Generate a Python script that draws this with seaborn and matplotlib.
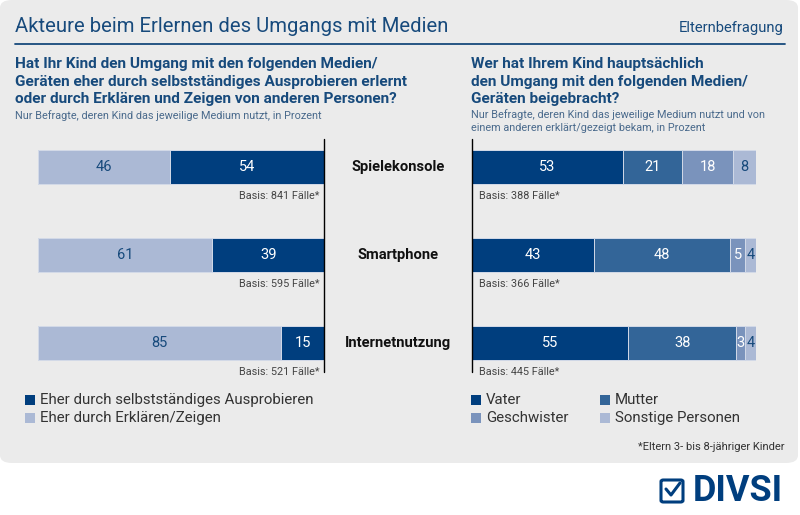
import numpy as np
import matplotlib
matplotlib.use("Agg")
import matplotlib.pyplot as plt
from matplotlib.patches import FancyBboxPatch, Rectangle
from matplotlib.lines import Line2D
import seaborn as sns

# data
categories = ["Spielekonsole", "Smartphone", "Internetnutzung"]
erklaeren = [46, 61, 85]
ausprobieren = [54, 39, 15]
basis_left = [841, 595, 521]

vater = [53, 43, 55]
mutter = [21, 48, 38]
geschwister = [18, 5, 3]
sonstige = [8, 4, 4]
basis_right = [388, 366, 445]

sns.set_theme(style="white")
plt.rcParams["font.family"] = ["Roboto", "DejaVu Sans"]

C_DARK = "#003e7e"
C_MUT = "#336598"
C_GES = "#7a93bc"
C_LIGHT = "#abb9d5"
C_TEXT = "#174a7c"
C_PANEL = "#ebebeb"

W, H = 800, 515
fig = plt.figure(figsize=(8, 5.15), dpi=100)
fig.patch.set_facecolor("white")


def fx(px):
    return px / W


def fy(py):
    return 1 - py / H


# grey panel behind everything
panel = FancyBboxPatch((fx(0), fy(463)), fx(798), 463 / H,
                       boxstyle="round,pad=0,rounding_size=0.015",
                       transform=fig.transFigure, facecolor=C_PANEL,
                       edgecolor="none", zorder=-5)
fig.patches.append(panel)

# header
fig.text(fx(15), fy(27), "Akteure beim Erlernen des Umgangs mit Medien",
         fontsize=14.6, color=C_TEXT, va="center", ha="left")
fig.text(fx(784), fy(28), "Elternbefragung", fontsize=10.6, color=C_TEXT,
         va="center", ha="right")
fig.lines.append(Line2D([fx(15), fx(785)], [fy(44), fy(44)],
                        transform=fig.transFigure, color=C_TEXT, lw=1.3))

q_left = ["Hat Ihr Kind den Umgang mit den folgenden Medien/",
          "Geräten eher durch selbstständiges Ausprobieren erlernt",
          "oder durch Erklären und Zeigen von anderen Personen?"]
q_right = ["Wer hat Ihrem Kind hauptsächlich",
           "den Umgang mit den folgenden Medien/",
           "Geräten beigebracht?"]
for k in range(3):
    fig.text(fx(15), fy(64 + 17.5 * k), q_left[k], fontsize=11.1,
             fontweight="bold", color=C_TEXT, va="center", ha="left")
    fig.text(fx(471), fy(64 + 17.5 * k), q_right[k], fontsize=11.1,
             fontweight="bold", color=C_TEXT, va="center", ha="left")

fig.text(fx(15), fy(116), "Nur Befragte, deren Kind das jeweilige Medium nutzt, in Prozent",
         fontsize=7.8, color="#4a6a8c", va="center", ha="left")
fig.text(fx(471), fy(115), "Nur Befragte, deren Kind das jeweilige Medium nutzt und von",
         fontsize=7.8, color="#4a6a8c", va="center", ha="left")
fig.text(fx(471), fy(128), "einem anderen erklärt/gezeigt bekam, in Prozent",
         fontsize=7.8, color="#4a6a8c", va="center", ha="left")

# axes: rows centred at 167, 255, 343 px
ax_top, ax_bot = 123, 387
axL = fig.add_axes([fx(38), fy(ax_bot), fx(324 - 38), (ax_bot - ax_top) / H])
axR = fig.add_axes([fx(472), fy(ax_bot), fx(756 - 472), (ax_bot - ax_top) / H])

bw = 0.386
edge = dict(edgecolor="#d3dae8", linewidth=0.7)

# left: stacked via cumulative overlay
tot_left = np.array(erklaeren) + np.array(ausprobieren)
sns.barplot(x=tot_left, y=categories, orient="h", color=C_DARK, width=bw,
            saturation=1, ax=axL, **edge)
sns.barplot(x=erklaeren, y=categories, orient="h", color=C_LIGHT, width=bw,
            saturation=1, ax=axL, **edge)

# right
series = [(vater, C_DARK, "white"), (mutter, C_MUT, "white"),
          (geschwister, C_GES, "white"), (sonstige, C_LIGHT, C_TEXT)]
cum = np.cumsum([s[0] for s in series], axis=0)
for k in range(len(series) - 1, -1, -1):
    sns.barplot(x=cum[k], y=categories, orient="h", color=series[k][1],
                width=bw, saturation=1, ax=axR, **edge)

for ax in (axL, axR):
    ax.set_xlim(0, 100)
    ax.set_ylim(2.5, -0.5)
    ax.set_facecolor("none")
    ax.axis("off")

# value labels
for i in range(len(categories)):
    axL.text(erklaeren[i] / 2, i, str(erklaeren[i]), ha="center", va="center",
             fontsize=10.5, color=C_TEXT)
    axL.text(erklaeren[i] + ausprobieren[i] / 2, i, str(ausprobieren[i]),
             ha="center", va="center", fontsize=10.5, color="white")
    axL.text(98.6, i + 0.33, f"Basis: {basis_left[i]} Fälle*", ha="right",
             va="center", fontsize=7.8, color="#444444")
    start = 0
    for vals, col, tcol in series:
        v = vals[i]
        axR.text(start + v / 2, i, str(v), ha="center", va="center",
                 fontsize=10.5, color=tcol)
        start += v
    axR.text(2.6, i + 0.33, f"Basis: {basis_right[i]} Fälle*", ha="left",
             va="center", fontsize=7.8, color="#444444")

# vertical baselines
axL.plot([100, 100], [-0.32, 2.33], color="black", lw=1, clip_on=False)
axR.plot([0, 0], [-0.32, 2.33], color="black", lw=1, clip_on=False)

# category labels in the middle
for i, cat in enumerate(categories):
    fig.text(fx(398), fy(167 + 88 * i), cat, ha="center", va="center",
             fontsize=10.6, fontweight="bold", color="#111111")


# legends
def legend_item(px, py, color, label):
    fig.patches.append(Rectangle((fx(px), fy(py + 5)), fx(10), 10 / H,
                                 transform=fig.transFigure, facecolor=color,
                                 edgecolor="none"))
    fig.text(fx(px + 15), fy(py), label, fontsize=10.8, color="#333333",
             va="center", ha="left")


legend_item(25, 400, C_DARK, "Eher durch selbstständiges Ausprobieren")
legend_item(25, 418, C_LIGHT, "Eher durch Erklären/Zeigen")
legend_item(471, 400, C_DARK, "Vater")
legend_item(471, 418, C_GES, "Geschwister")
legend_item(600, 400, C_MUT, "Mutter")
legend_item(600, 418, C_LIGHT, "Sonstige Personen")

fig.text(fx(784), fy(447), "*Eltern 3- bis 8-jähriger Kinder", fontsize=8,
         color="#333333", ha="right", va="center")

# DIVSI logo
box = FancyBboxPatch((fx(661), fy(502)), fx(22), 22 / H,
                     boxstyle="round,pad=0,rounding_size=0.003",
                     transform=fig.transFigure, facecolor="none",
                     edgecolor=C_DARK, lw=2.2)
fig.patches.append(box)
fig.lines.append(Line2D([fx(666), fx(671), fx(680)], [fy(489), fy(495), fy(483)],
                        transform=fig.transFigure, color=C_DARK, lw=2.2))
fig.text(fx(693), fy(491), "DIVSI", fontsize=26, fontweight="bold",
         color=C_DARK, ha="left", va="center")

fig.savefig("out.png", dpi=100)
